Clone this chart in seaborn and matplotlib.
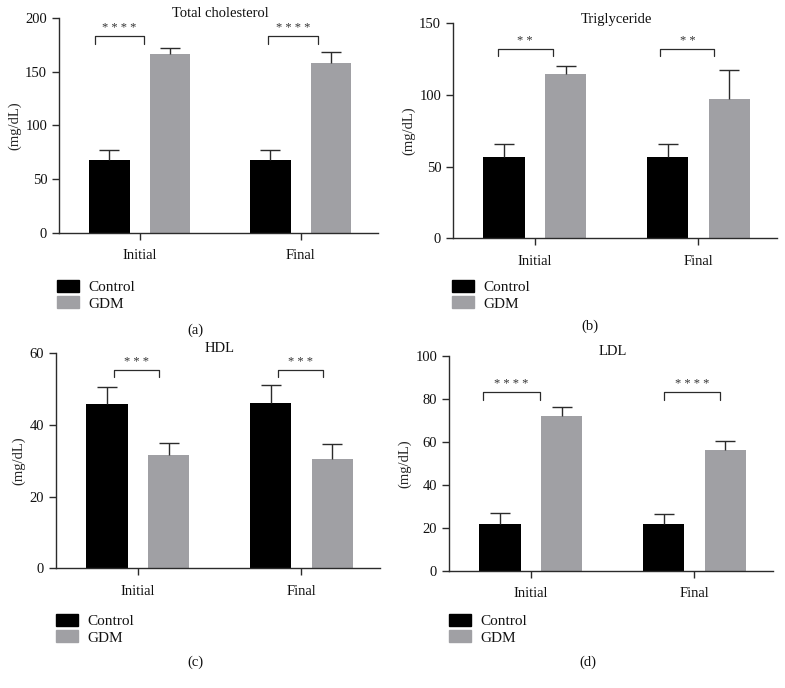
import pandas as pd
import matplotlib
matplotlib.use('Agg')
import matplotlib.pyplot as plt
import seaborn as sns

# data (mean and upper SD)
times = ['Initial', 'Final']
groups = ['Control', 'GDM']

chol_control = [67.5, 67.5]
chol_control_sd = [10.0, 10.0]
chol_gdm = [166.0, 158.0]
chol_gdm_sd = [6.5, 10.5]

tg_control = [57.0, 57.0]
tg_control_sd = [8.6, 8.8]
tg_gdm = [114.6, 97.4]
tg_gdm_sd = [5.8, 20.3]

hdl_control = [45.8, 46.2]
hdl_control_sd = [4.9, 5.0]
hdl_gdm = [31.6, 30.5]
hdl_gdm_sd = [3.4, 4.2]

ldl_control = [21.7, 21.6]
ldl_control_sd = [5.3, 4.9]
ldl_gdm = [72.0, 56.3]
ldl_gdm_sd = [4.3, 3.9]

titles = ['Total cholesterol', 'Triglyceride', 'HDL', 'LDL']
stars = ['* * * *', '* *', '* * *', '* * * *']
letters = ['(a)', '(b)', '(c)', '(d)']
ymax = [200, 150, 60, 100]
ystep = [50, 50, 20, 20]

# significance bracket: height of bar top, leg bottom (data units)
bracket_top = [183, 131.8, 55.3, 83]
bracket_leg = [176, 127, 53.5, 79.4]
# bracket x offsets from category centre, per panel, for (initial, final)
bracket_x = [
    [(-0.278, 0.025), (-0.204, 0.105)],
    [(-0.227, 0.110), (-0.233, 0.098)],
    [(-0.147, 0.132), (-0.146, 0.134)],
    [(-0.293, 0.054), (-0.186, 0.157)],
]

# layout in pixels (left, top, right, bottom) of each axes
axes_px = [(59, 18, 378, 232.7), (453, 23.3, 777, 238.3),
           (56, 353.3, 380, 568.3), (449, 355.7, 773, 570.7)]
legend_px = [(57, 280), (452, 280), (56, 614), (449, 614)]
letter_px = [(195, 330), (590, 326), (195, 662), (588, 662)]

W, H = 785, 688
BLACK = '#000000'
GRAY = '#a0a0a4'
LINE = '#2b2b2b'

sns.set_style('ticks')
plt.rcParams['font.family'] = ['Liberation Serif', 'DejaVu Serif']
plt.rcParams['axes.edgecolor'] = LINE
plt.rcParams['xtick.color'] = LINE
plt.rcParams['ytick.color'] = LINE
plt.rcParams['text.color'] = '#111111'
plt.rcParams['xtick.labelcolor'] = '#111111'
plt.rcParams['ytick.labelcolor'] = '#111111'

panels = [
    (chol_control, chol_control_sd, chol_gdm, chol_gdm_sd),
    (tg_control, tg_control_sd, tg_gdm, tg_gdm_sd),
    (hdl_control, hdl_control_sd, hdl_gdm, hdl_gdm_sd),
    (ldl_control, ldl_control_sd, ldl_gdm, ldl_gdm_sd),
]

fig = plt.figure(figsize=(W / 100, H / 100), dpi=100)

for i, (c, c_sd, g, g_sd) in enumerate(panels):
    l, t, r, b = axes_px[i]
    ax = fig.add_axes([l / W, 1 - b / H, (r - l) / W, (b - t) / H])

    df = pd.DataFrame({
        'time': times * 2,
        'group': [groups[0]] * 2 + [groups[1]] * 2,
        'value': c + g,
        'sd': c_sd + g_sd,
    })

    sns.barplot(data=df, x='time', y='value', hue='group', order=times,
                hue_order=groups, palette=[BLACK, GRAY], width=0.753, gap=0.33,
                errorbar=None, linewidth=0, legend=False, ax=ax)

    # one-sided error bars on top of each bar
    for cont, sds in zip(ax.containers, [c_sd, g_sd]):
        xs = [p.get_x() + p.get_width() / 2 for p in cont.patches]
        hs = [p.get_height() for p in cont.patches]
        eb = ax.errorbar(xs, hs, yerr=[[0] * len(sds), sds], fmt='none',
                         ecolor=LINE, elinewidth=1.0, capsize=7.5,
                         capthick=1.0, zorder=1)
        # hide the cap that sits on the bar top
        eb[1][0].set_visible(False)

    # significance brackets
    for j, (x0, x1) in enumerate(bracket_x[i]):
        xa, xb = j + x0, j + x1
        ax.plot([xa, xa, xb, xb],
                [bracket_leg[i], bracket_top[i], bracket_top[i], bracket_leg[i]],
                color=LINE, lw=0.9, clip_on=False)
        ax.text((xa + xb) / 2, bracket_top[i] + ymax[i] * 0.012, stars[i],
                ha='center', va='bottom', fontsize=9, color='#333333')

    ax.set_xlim(-0.5, 1.48)
    ax.set_ylim(0, ymax[i])
    ax.set_yticks(range(0, ymax[i] + 1, ystep[i]))
    ax.set_xlabel('')
    ax.set_ylabel('(mg/dL)', fontsize=10.5, labelpad=3)
    ax.tick_params(axis='both', labelsize=10.5, length=5, width=1)
    ax.tick_params(axis='x', pad=7)
    for side in ['top', 'right']:
        ax.spines[side].set_visible(False)
    for side in ['left', 'bottom']:
        ax.spines[side].set_linewidth(1.0)

    ax.text(0.505, 1.02, titles[i], transform=ax.transAxes, ha='center',
            va='center', fontsize=10.5)

    handles = [plt.Rectangle((0, 0), 1, 1, color=BLACK),
               plt.Rectangle((0, 0), 1, 1, color=GRAY)]
    lx, ly = legend_px[i]
    fig.legend(handles, groups, loc='upper left',
               bbox_to_anchor=(lx / W, 1 - ly / H), frameon=False,
               fontsize=11, handlelength=1.45, handleheight=0.8,
               handletextpad=0.6, labelspacing=0.15, borderpad=0,
               borderaxespad=0)

    fx, fy = letter_px[i]
    fig.text(fx / W, 1 - fy / H, letters[i], ha='center', va='center',
             fontsize=10.5)

fig.savefig('out.png', dpi=100)
